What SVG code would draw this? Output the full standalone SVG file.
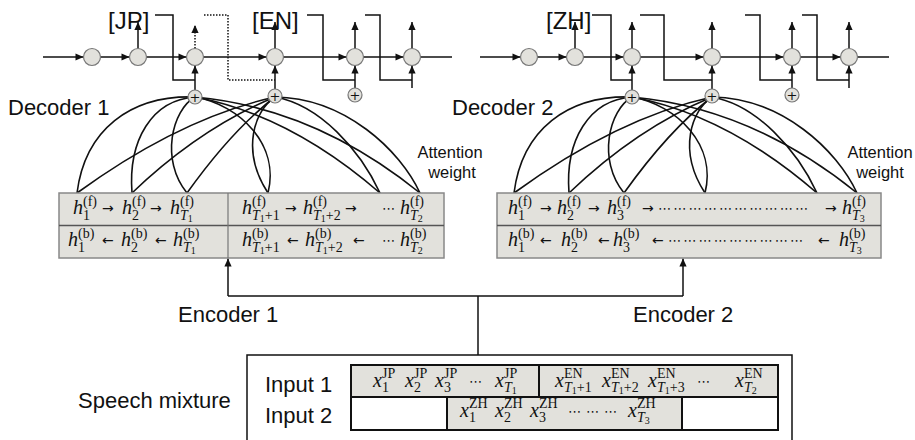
<svg xmlns="http://www.w3.org/2000/svg" width="915" height="440" viewBox="0 0 915 440">
<defs>
<style>
.lbl{font-family:"Liberation Sans",Arial,sans-serif;fill:#111}
.big{font-size:22px}
.tag{font-size:24px}
.att{font-size:16.5px;text-anchor:middle}
.mi{font-family:"Liberation Serif",serif;font-style:italic;font-size:20px;fill:#111}
.sp{font-family:"Liberation Serif",serif;font-size:14px;fill:#111}
.si{font-style:italic}
.ss{font-size:10px}
.op{font-family:"DejaVu Sans",sans-serif;font-size:14px;fill:#111}
.dots{font-family:"DejaVu Sans",sans-serif;font-size:13px;fill:#111}
.ln{fill:none;stroke:#111;stroke-width:1.5}
.dt{fill:none;stroke:#111;stroke-width:1.5;stroke-dasharray:1.5 1.5}
.cv{fill:none;stroke:#111;stroke-width:1.6}
.nd{fill:#e2e1dc;stroke:#777;stroke-width:1.2}
.enc{fill:#e2e1dc;stroke:#888;stroke-width:1.5}
.in{stroke:#111;stroke-width:2}
.g{fill:#e2e1dc}
.w{fill:#fff}
.plus{font-family:"DejaVu Sans",sans-serif;font-size:13px;text-anchor:middle;fill:#111}
</style>
<marker id="ah" viewBox="0 0 10 10" refX="10" refY="5" markerWidth="9" markerHeight="8" markerUnits="userSpaceOnUse" orient="auto">
<path d="M0,0.5 L10,5 L0,9.5 z" fill="#111"/>
</marker>
</defs>
<rect width="915" height="440" fill="#fff"/>

<g id="connectors">
 <g id="dec1-links">
  <path class="ln" marker-end="url(#ah)" d="M43,57 H83.5"/>
  <path class="ln" marker-end="url(#ah)" d="M100.5,57 H129.5"/>
  <path class="ln" marker-end="url(#ah)" d="M146.5,57 H186.5"/>
  <path class="ln" marker-end="url(#ah)" d="M203.5,57 H266.5"/>
  <path class="ln" marker-end="url(#ah)" d="M283.5,57 H346.5"/>
  <path class="ln" marker-end="url(#ah)" d="M363.5,57 H403.5"/>
  <path class="ln" d="M420.5,57 H452"/>
  <path class="ln" marker-end="url(#ah)" d="M138,48.5 V22"/>
  <path class="dt" marker-end="url(#ah)" d="M195,48.5 V25"/>
  <path class="ln" marker-end="url(#ah)" d="M275,48.5 V22"/>
  <path class="ln" marker-end="url(#ah)" d="M355,48.5 V22"/>
  <path class="ln" marker-end="url(#ah)" d="M412,48.5 V22"/>
  <path class="ln" marker-end="url(#ah)" d="M195,90 V65.5"/>
  <path class="ln" marker-end="url(#ah)" d="M275,89 V65.5"/>
  <path class="ln" marker-end="url(#ah)" d="M355,88 V65.5"/>
  <path class="ln" marker-end="url(#ah)" d="M412,88 V65.5"/>
  <path class="ln" d="M155,15 H173 V80 H195"/>
  <path class="dt" d="M204,15 H228 V80 H275"/>
  <path class="ln" d="M307,15 H323 V80 H355"/>
  <path class="ln" d="M365,15 H380 V80 H412"/>
 </g>
 <g id="dec2-links">
  <path class="ln" marker-end="url(#ah)" d="M480,57 H520.5"/>
  <path class="ln" marker-end="url(#ah)" d="M537.5,57 H566.5"/>
  <path class="ln" marker-end="url(#ah)" d="M583.5,57 H623.5"/>
  <path class="ln" marker-end="url(#ah)" d="M640.5,57 H703.5"/>
  <path class="ln" marker-end="url(#ah)" d="M720.5,57 H783.5"/>
  <path class="ln" marker-end="url(#ah)" d="M800.5,57 H840.5"/>
  <path class="ln" d="M857.5,57 H889"/>
  <path class="ln" marker-end="url(#ah)" d="M575,48.5 V22"/>
  <path class="ln" marker-end="url(#ah)" d="M632,48.5 V22"/>
  <path class="ln" marker-end="url(#ah)" d="M712,48.5 V22"/>
  <path class="ln" marker-end="url(#ah)" d="M792,48.5 V22"/>
  <path class="ln" marker-end="url(#ah)" d="M849,48.5 V22"/>
  <path class="ln" marker-end="url(#ah)" d="M632,90 V65.5"/>
  <path class="ln" marker-end="url(#ah)" d="M712,89 V65.5"/>
  <path class="ln" marker-end="url(#ah)" d="M792,88 V65.5"/>
  <path class="ln" marker-end="url(#ah)" d="M849,88 V65.5"/>
  <path class="ln" d="M592,15 H611 V80 H632"/>
  <path class="ln" d="M640,15 H664 V80 H712"/>
  <path class="ln" d="M745,15 H760 V80 H792"/>
  <path class="ln" d="M802,15 H817 V80 H849"/>
 </g>
 <g id="att1">
  <path class="cv" d="M195,97 C130,95 85,130 77,193"/>
  <path class="cv" d="M195,97 C152,100 128,140 132,193"/>
  <path class="cv" d="M195,97 C172,110 160,160 187,193"/>
  <path class="cv" d="M195,97 C240,105 280,145 268,193"/>
  <path class="cv" d="M195,97 Q290,115 380,193"/>
  <path class="cv" d="M195,97 Q315,108 420,193"/>
  <path class="cv" d="M275,97 Q180,118 77,193"/>
  <path class="cv" d="M275,97 Q200,128 132,193"/>
  <path class="cv" d="M275,97 Q232,130 187,193"/>
  <path class="cv" d="M275,97 C255,110 240,150 268,193"/>
  <path class="cv" d="M275,97 C320,105 360,150 380,193"/>
  <path class="cv" d="M275,97 C345,98 400,150 420,193"/>
 </g>
 <g id="att2" transform="translate(437,0)">
  <path class="cv" d="M195,97 C130,95 85,130 77,193"/>
  <path class="cv" d="M195,97 C152,100 128,140 132,193"/>
  <path class="cv" d="M195,97 C172,110 160,160 187,193"/>
  <path class="cv" d="M195,97 C240,105 280,145 268,193"/>
  <path class="cv" d="M195,97 Q290,115 380,193"/>
  <path class="cv" d="M195,97 Q315,108 420,193"/>
  <path class="cv" d="M275,97 Q180,118 77,193"/>
  <path class="cv" d="M275,97 Q200,128 132,193"/>
  <path class="cv" d="M275,97 Q232,130 187,193"/>
  <path class="cv" d="M275,97 C255,110 240,150 268,193"/>
  <path class="cv" d="M275,97 C320,105 360,150 380,193"/>
  <path class="cv" d="M275,97 C345,98 400,150 420,193"/>
 </g>
 <g id="feed">
  <path class="ln" d="M478,355 V296"/>
  <path class="ln" d="M228,296 H683"/>
  <path class="ln" marker-end="url(#ah)" d="M228,296 V258.5"/>
  <path class="ln" marker-end="url(#ah)" d="M683,296 V258.5"/>
 </g>
</g>

<g id="decoder1">
 <text class="lbl big" x="8" y="115">Decoder 1</text>
 <text class="lbl tag" x="108" y="29">[JP]</text>
 <text class="lbl tag" x="252" y="29">[EN]</text>
 <g id="d1-states">
  <circle class="nd" cx="92" cy="57" r="8.5"/>
  <circle class="nd" cx="138" cy="57" r="8.5"/>
  <circle class="nd" cx="195" cy="57" r="8.5"/>
  <circle class="nd" cx="275" cy="57" r="8.5"/>
  <circle class="nd" cx="355" cy="57" r="8.5"/>
  <circle class="nd" cx="412" cy="57" r="8.5"/>
 </g>
 <g id="d1-sums">
  <circle class="nd" cx="195" cy="97" r="7"/><text class="plus" x="195" y="101.5">+</text>
  <circle class="nd" cx="275" cy="96" r="7"/><text class="plus" x="275" y="100.5">+</text>
  <circle class="nd" cx="355" cy="95" r="7"/><text class="plus" x="355" y="99.5">+</text>
 </g>
 <text class="lbl att" x="450" y="158">Attention</text>
 <text class="lbl att" x="452" y="178">weight</text>
</g>

<g id="decoder2">
 <text class="lbl big" x="452" y="115">Decoder 2</text>
 <text class="lbl tag" x="546" y="29">[ZH]</text>
 <g id="d2-states">
  <circle class="nd" cx="529" cy="57" r="8.5"/>
  <circle class="nd" cx="575" cy="57" r="8.5"/>
  <circle class="nd" cx="632" cy="57" r="8.5"/>
  <circle class="nd" cx="712" cy="57" r="8.5"/>
  <circle class="nd" cx="792" cy="57" r="8.5"/>
  <circle class="nd" cx="849" cy="57" r="8.5"/>
 </g>
 <g id="d2-sums">
  <circle class="nd" cx="632" cy="97" r="7"/><text class="plus" x="632" y="101.5">+</text>
  <circle class="nd" cx="712" cy="96" r="7"/><text class="plus" x="712" y="100.5">+</text>
  <circle class="nd" cx="792" cy="95" r="7"/><text class="plus" x="792" y="99.5">+</text>
 </g>
 <text class="lbl att" x="880" y="158">Attention</text>
 <text class="lbl att" x="880" y="178">weight</text>
</g>

<g id="encoder1">
 <rect class="enc" x="59" y="193" width="385" height="65"/>
 <path d="M59,225.5 H444" stroke="#555" stroke-width="1.5"/>
 <path d="M228,193 V258" stroke="#777" stroke-width="1.2"/>
 <text class="mi" x="73" y="214">h</text><text class="sp" x="83" y="206">(f)</text><text class="sp" x="83" y="220">1</text>
 <text class="op" x="102" y="213">→</text>
 <text class="mi" x="122" y="214">h</text><text class="sp" x="132" y="206">(f)</text><text class="sp" x="132" y="220">2</text>
 <text class="op" x="150" y="213">→</text>
 <text class="mi" x="170" y="214">h</text><text class="sp" x="180" y="206">(f)</text><text class="sp" x="180" y="220"><tspan class="si">T</tspan><tspan class="ss" dy="2">1</tspan></text>
 <text class="mi" x="242" y="214">h</text><text class="sp" x="252" y="206">(f)</text><text class="sp" x="252" y="220"><tspan class="si">T</tspan><tspan class="ss" dy="2">1</tspan><tspan dy="-2">+1</tspan></text>
 <text class="op" x="285" y="213">→</text>
 <text class="mi" x="303" y="214">h</text><text class="sp" x="313" y="206">(f)</text><text class="sp" x="313" y="220"><tspan class="si">T</tspan><tspan class="ss" dy="2">1</tspan><tspan dy="-2">+2</tspan></text>
 <text class="op" x="345" y="213">→</text>
 <text class="dots" x="382" y="213">⋯</text>
 <text class="mi" x="400" y="214">h</text><text class="sp" x="410" y="206">(f)</text><text class="sp" x="410" y="220"><tspan class="si">T</tspan><tspan class="ss" dy="2">2</tspan></text>
 <text class="mi" x="68" y="246">h</text><text class="sp" x="78" y="238">(b)</text><text class="sp" x="78" y="252">1</text>
 <text class="op" x="102" y="245">←</text>
 <text class="mi" x="121" y="246">h</text><text class="sp" x="131" y="238">(b)</text><text class="sp" x="131" y="252">2</text>
 <text class="op" x="155" y="245">←</text>
 <text class="mi" x="173" y="246">h</text><text class="sp" x="183" y="238">(b)</text><text class="sp" x="183" y="252"><tspan class="si">T</tspan><tspan class="ss" dy="2">1</tspan></text>
 <text class="mi" x="242" y="246">h</text><text class="sp" x="252" y="238">(b)</text><text class="sp" x="252" y="252"><tspan class="si">T</tspan><tspan class="ss" dy="2">1</tspan><tspan dy="-2">+1</tspan></text>
 <text class="op" x="287" y="245">←</text>
 <text class="mi" x="305" y="246">h</text><text class="sp" x="315" y="238">(b)</text><text class="sp" x="315" y="252"><tspan class="si">T</tspan><tspan class="ss" dy="2">1</tspan><tspan dy="-2">+2</tspan></text>
 <text class="op" x="353" y="245">←</text>
 <text class="dots" x="382" y="245">⋯</text>
 <text class="mi" x="400" y="246">h</text><text class="sp" x="410" y="238">(b)</text><text class="sp" x="410" y="252"><tspan class="si">T</tspan><tspan class="ss" dy="2">2</tspan></text>
 <text class="lbl big" x="178" y="322">Encoder 1</text>
</g>

<g id="encoder2">
 <rect class="enc" x="497" y="193" width="384" height="65"/>
 <path d="M497,225.5 H881" stroke="#555" stroke-width="1.5"/>
 <text class="mi" x="508" y="214">h</text><text class="sp" x="518" y="206">(f)</text><text class="sp" x="518" y="220">1</text>
 <text class="op" x="540" y="213">→</text>
 <text class="mi" x="557" y="214">h</text><text class="sp" x="567" y="206">(f)</text><text class="sp" x="567" y="220">2</text>
 <text class="op" x="588" y="213">→</text>
 <text class="mi" x="607" y="214">h</text><text class="sp" x="617" y="206">(f)</text><text class="sp" x="617" y="220">3</text>
 <text class="op" x="642" y="213">→</text>
 <text class="dots" x="658" y="213" textLength="150" lengthAdjust="spacing">⋯⋯⋯⋯⋯⋯⋯⋯⋯⋯</text>
 <text class="op" x="825" y="213">→</text>
 <text class="mi" x="842" y="214">h</text><text class="sp" x="852" y="206">(f)</text><text class="sp" x="852" y="220"><tspan class="si">T</tspan><tspan class="ss" dy="2">3</tspan></text>
 <text class="mi" x="508" y="246">h</text><text class="sp" x="518" y="238">(b)</text><text class="sp" x="518" y="252">1</text>
 <text class="op" x="540" y="245">←</text>
 <text class="mi" x="561" y="246">h</text><text class="sp" x="571" y="238">(b)</text><text class="sp" x="571" y="252">2</text>
 <text class="op" x="598" y="245">←</text>
 <text class="mi" x="613" y="246">h</text><text class="sp" x="623" y="238">(b)</text><text class="sp" x="623" y="252">3</text>
 <text class="op" x="652" y="245">←</text>
 <text class="dots" x="668" y="245" textLength="135" lengthAdjust="spacing">⋯⋯⋯⋯⋯⋯⋯⋯⋯</text>
 <text class="op" x="818" y="245">←</text>
 <text class="mi" x="839" y="246">h</text><text class="sp" x="849" y="238">(b)</text><text class="sp" x="849" y="252"><tspan class="si">T</tspan><tspan class="ss" dy="2">3</tspan></text>
 <text class="lbl big" x="633" y="322">Encoder 2</text>
</g>

<g id="speech">
 <path class="ln" d="M247,445 V355 H792 V445"/>
 <text class="lbl big" x="78" y="408">Speech mixture</text>
 <text class="lbl big" x="265" y="392">Input 1</text>
 <text class="lbl big" x="265" y="423">Input 2</text>
 <g id="input1">
  <rect class="g in" x="351" y="365" width="427" height="32"/>
  <path class="in" d="M539,365 V397"/>
  <text class="mi" x="373" y="387">x</text><text class="sp" x="382" y="378" font-size="12">JP</text><text class="sp" x="382" y="392">1</text>
  <text class="mi" x="405" y="387">x</text><text class="sp" x="414" y="378" font-size="12">JP</text><text class="sp" x="414" y="392">2</text>
  <text class="mi" x="435" y="387">x</text><text class="sp" x="444" y="378" font-size="12">JP</text><text class="sp" x="444" y="392">3</text>
  <text class="dots" x="469" y="386">⋯</text>
  <text class="mi" x="495" y="387">x</text><text class="sp" x="504" y="378" font-size="12">JP</text><text class="sp" x="504" y="392"><tspan class="si">T</tspan><tspan class="ss" dy="2">1</tspan></text>
  <text class="mi" x="555" y="387">x</text><text class="sp" x="564" y="378" font-size="12">EN</text><text class="sp" x="564" y="392"><tspan class="si">T</tspan><tspan class="ss" dy="2">1</tspan><tspan dy="-2">+1</tspan></text>
  <text class="mi" x="602" y="387">x</text><text class="sp" x="611" y="378" font-size="12">EN</text><text class="sp" x="611" y="392"><tspan class="si">T</tspan><tspan class="ss" dy="2">1</tspan><tspan dy="-2">+2</tspan></text>
  <text class="mi" x="648" y="387">x</text><text class="sp" x="657" y="378" font-size="12">EN</text><text class="sp" x="657" y="392"><tspan class="si">T</tspan><tspan class="ss" dy="2">1</tspan><tspan dy="-2">+3</tspan></text>
  <text class="dots" x="697" y="386">⋯</text>
  <text class="mi" x="735" y="387">x</text><text class="sp" x="744" y="378" font-size="12">EN</text><text class="sp" x="744" y="392"><tspan class="si">T</tspan><tspan class="ss" dy="2">2</tspan></text>
 </g>
 <g id="input2">
  <rect class="w in" x="351" y="397" width="96" height="33"/>
  <rect class="g in" x="447" y="397" width="235" height="33"/>
  <rect class="w in" x="682" y="397" width="96" height="33"/>
  <text class="mi" x="460" y="417">x</text><text class="sp" x="469" y="408" font-size="12">ZH</text><text class="sp" x="469" y="422">1</text>
  <text class="mi" x="495" y="417">x</text><text class="sp" x="504" y="408" font-size="12">ZH</text><text class="sp" x="504" y="422">2</text>
  <text class="mi" x="530" y="417">x</text><text class="sp" x="539" y="408" font-size="12">ZH</text><text class="sp" x="539" y="422">3</text>
  <text class="dots" x="568" y="416" textLength="49" lengthAdjust="spacing">⋯⋯⋯</text>
  <text class="mi" x="628" y="417">x</text><text class="sp" x="637" y="408" font-size="12">ZH</text><text class="sp" x="637" y="422"><tspan class="si">T</tspan><tspan class="ss" dy="2">3</tspan></text>
 </g>
</g>
</svg>
